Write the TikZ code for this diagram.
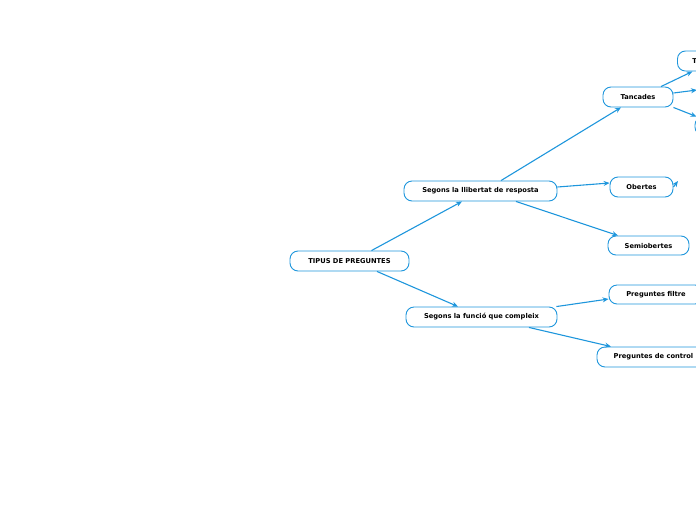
\documentclass[tikz,border=0pt]{standalone}
\usepackage{fontspec}
\setmainfont{DejaVu Sans}
\usetikzlibrary{arrows.meta}

\definecolor{mapblue}{HTML}{1E96DC}

\begin{document}
\begin{tikzpicture}[x=1pt, y=-1pt,
    box/.style={draw=mapblue, line width=0.9pt, rounded corners=8pt, fill=white,
      minimum height=20pt, inner sep=0pt, font=\fontsize{6.7}{7}\selectfont\bfseries},
    link/.style={draw=mapblue, line width=1.1pt, -{Stealth[length=6pt, width=5pt]}}]
  \useasboundingbox (0,0) rectangle (696,520);
  \clip (0,0) rectangle (696,520);

  % first and second level
  \node[box, minimum width=119pt] (Tipus) at (349.5,261) {TIPUS DE PREGUNTES};
  \node[box, minimum width=153pt] (Llibertat) at (480.5,191) {Segons la llibertat de resposta};
  \node[box, minimum width=151pt] (Funcio) at (481.5,317) {Segons la funció que compleix};

  % third level
  \node[box, minimum width=70pt] (Tancades) at (638,97) {Tancades};
  \node[box, minimum width=63pt] (Obertes) at (641.5,187) {Obertes};
  \node[box, minimum width=81pt, minimum height=19pt] (Semiobertes) at (648.5,245.5) {Semiobertes};
  \node[box, minimum width=94pt, minimum height=19pt] (Filtre) at (656,294.5) {Preguntes filtre};
  \node[box, minimum width=113pt] (Control) at (653.5,357) {Preguntes de control};

  % fourth level, cut by the page edge
  \node[box, anchor=west, text width=50pt, align=left, inner xsep=15pt] (TancA) at (677,61) {T};
  \node[box, anchor=west, minimum width=60pt, minimum height=18pt] (TancC) at (694.5,126) {};
  \coordinate (TancB) at (697,90);
  \coordinate (ObertesA) at (678,181);

  \draw[link] ([xshift=22pt]Tipus.north) -- ([xshift=-18.5pt]Llibertat.south);
  \draw[link] ([xshift=27.5pt]Tipus.south) -- ([xshift=-23.5pt]Funcio.north);

  \draw[link] ([xshift=20.5pt]Llibertat.north) -- ([xshift=-17pt]Tancades.south);
  \draw[link] ([yshift=4pt]Llibertat.east) -- ([yshift=4pt]Obertes.west);
  \draw[link] ([xshift=35.5pt]Llibertat.south) -- ([xshift=-30.5pt]Semiobertes.north);

  \draw[link] ([xshift=-1pt]Funcio.north east) -- ([yshift=-4.5pt]Filtre.west);
  \draw[link] ([xshift=47.5pt]Funcio.south) -- ([xshift=-42.5pt]Control.north);

  \draw[link] ([xshift=23pt]Tancades.north) -- ([xshift=-25pt]TancA.south);
  \draw[link] ([yshift=4pt]Tancades.east) -- (TancB);
  \draw[link] (Tancades.south east) -- ([xshift=2pt]TancC.north west);
  \draw[link] (Obertes.east) -- (ObertesA);
\end{tikzpicture}
\end{document}
